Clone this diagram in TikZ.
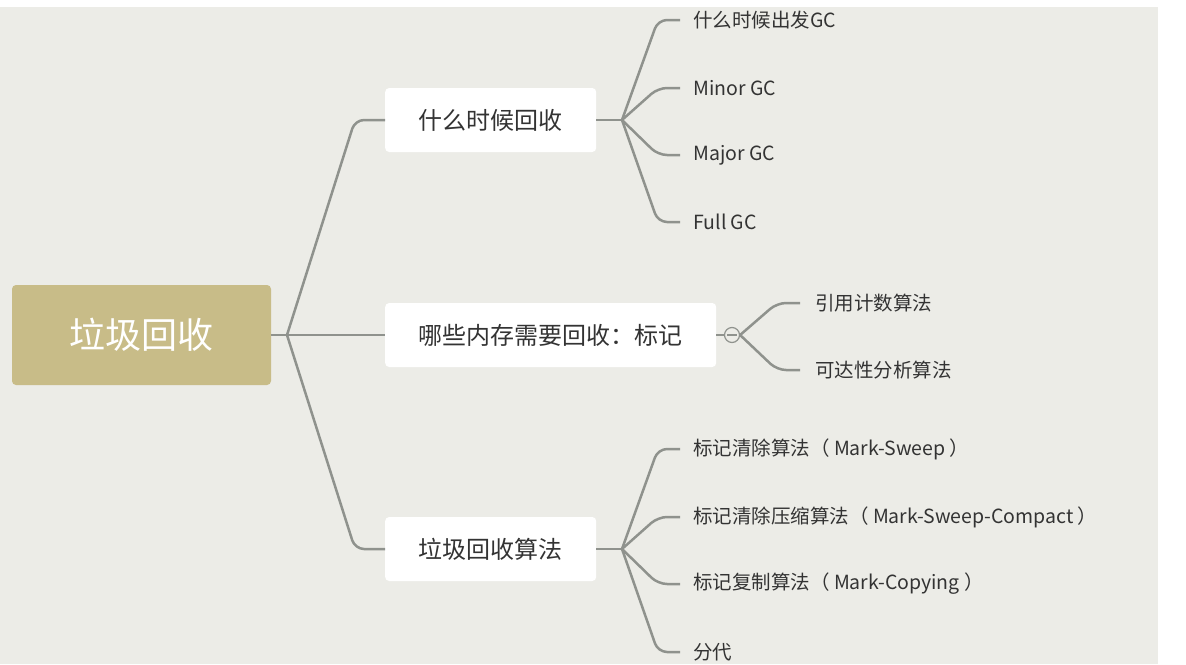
\documentclass[tikz,border=0pt]{standalone}
\usepackage{fontspec}
\setmainfont{Noto Sans CJK SC}
\begin{document}
\begin{tikzpicture}[x=1pt,y=-1pt,
  conn/.style={draw=lineC,line width=2.5pt,rounded corners=9pt},
  box/.style={fill=white,rounded corners=4pt,text=txtC,font=\fontsize{24}{27}\selectfont,minimum height=64pt,anchor=west,inner xsep=32pt},
  leaf/.style={text=txtC,font=\fontsize{19.5}{22}\selectfont,anchor=west,inner sep=0pt}]
\definecolor{lineC}{HTML}{8F928D}
\definecolor{txtC}{HTML}{333333}
\definecolor{bgC}{HTML}{ECECE7}
\definecolor{rootC}{HTML}{C8BC88}
\useasboundingbox (0,0) rectangle (1186,664);
\fill[white] (0,0) rectangle (1186,664);
\fill[bgC] (0,7) rectangle (1158,664);
\node[fill=rootC,rounded corners=4pt,text=white,font=\fontsize{36}{40}\selectfont,minimum width=259pt,minimum height=100pt] (root) at (141.5,335) {垃圾回收};
\node[box,minimum width=211pt] (b1) at (385,120) {什么时候回收};
\node[box,minimum width=331pt] (b2) at (385,335) {哪些内存需要回收：标记};
\node[box,minimum width=211pt] (b3) at (385,549) {垃圾回收算法};
\coordinate (f0) at (287,335);
\draw[conn] (root.east) -- (f0);
\draw[conn] (f0) -- (355,120) -- (b1.west);
\draw[conn] (f0) -- (b2.west);
\draw[conn] (f0) -- (355,549) -- (b3.west);
% branch 1
\coordinate (f1) at (622,120);
\draw[conn] (b1.east) -- (f1);
\foreach \n/\y/\t in {a/20/什么时候出发GC,b/88/Minor GC,c/155/Major GC,d/222/Full GC}{
  \node[leaf] (l\n) at (693,\y) {\t};
  \draw[conn] (f1) -- (658,\y) -- (680,\y);
}
% branch 2
\node[circle,draw=lineC,line width=1.2pt,minimum size=15pt,inner sep=0pt] (cc) at (732,335) {};
\draw[lineC,line width=1.2pt] (727,335) -- (737,335);
\draw[conn] (b2.east) -- (cc.west);
\foreach \n/\y/\t in {a/303/引用计数算法,b/370/可达性分析算法}{
  \node[leaf] (m\n) at (815,\y) {\t};
  \draw[conn] (cc.east) -- (777,\y) -- (800,\y);
}
% branch 3
\coordinate (f3) at (622,549);
\draw[conn] (b3.east) -- (f3);
\foreach \n/\y/\t in {a/449/标记清除算法（ Mark-Sweep ）,b/517/标记清除压缩算法（ Mark-Sweep-Compact ）,c/584/标记复制算法（ Mark-Copying ）,d/652/分代}{
  \node[leaf] (k\n) at (693,\y) {\t};
  \draw[conn] (f3) -- (658,\y) -- (680,\y);
}
\end{tikzpicture}
\end{document}
